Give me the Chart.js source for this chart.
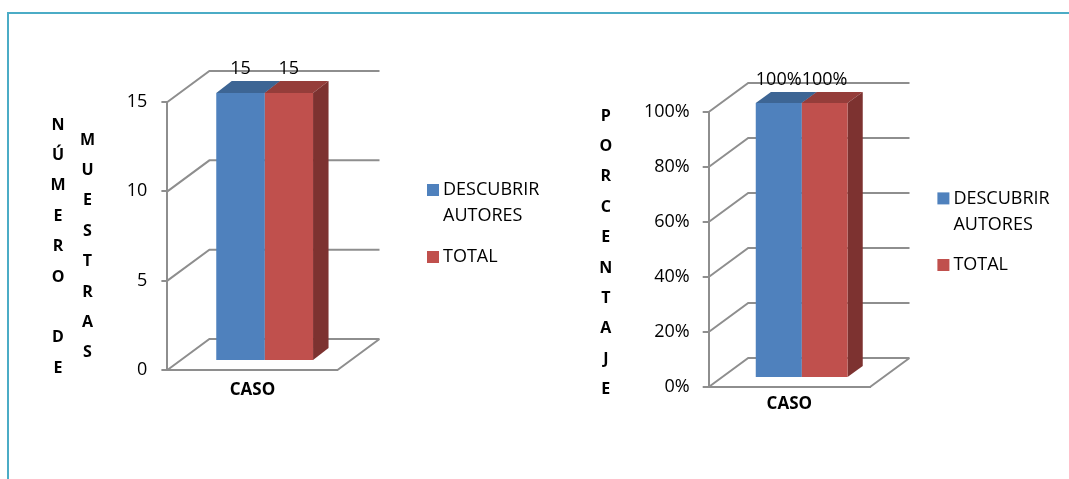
<!DOCTYPE html>
<html>
<head>
<meta charset="utf-8">
<script src="https://cdn.jsdelivr.net/npm/chart.js@4.4.0/dist/chart.umd.min.js"></script>
<style>
    html, body { margin: 0; padding: 0; background: #fff; }
    body { width: 1069px; height: 479px; position: relative; overflow: hidden; }
    #frame { position: absolute; left: 7px; top: 12px; width: 1100px; height: 500px;
             border-left: 2px solid #4BACC6; border-top: 2px solid #4BACC6; }
    canvas { position: absolute; top: 0; }
    #countChart { left: 0; }
    #percentChart { left: 535px; }
</style>
</head>
<body>
<div id="frame"></div>
<canvas id="countChart" width="565" height="479"></canvas>
<canvas id="percentChart" width="534" height="479"></canvas>
<script>
// Data
const categories = ['CASO'];
const seriesNames = ['DESCUBRIR AUTORES', 'TOTAL'];
const countValues = [15, 15];
const percentValues = [100, 100];
const countTicks = [0, 5, 10, 15];
const percentTicks = [0, 20, 40, 60, 80, 100];
const countTitle = 'NÚMERO DE MUESTRAS';
const percentTitle = 'PORCENTAJE';

const frontColors = ['#4F81BD', '#C0504D'];
const topColors = ['#3D6594', '#953D3A'];
const sideColors = ['#3A5F8C', '#7D3230'];
const gridColor = '#8e8e8e';
const FONT = '"Open Sans", Lato, sans-serif';

Chart.defaults.color = '#000';
Chart.defaults.font.family = FONT;

// Fake 3D look: walls, bar depth, value labels, legend and stacked axis title
const threeD = {
    id: 'threeD',
    beforeDatasetsDraw(chart, args, o) {
        const { ctx, chartArea: a, scales: { y } } = chart;
        ctx.save();
        ctx.strokeStyle = gridColor;
        ctx.lineWidth = 2;
        ctx.beginPath();
        y.ticks.forEach(t => {
            const py = y.getPixelForValue(t.value);
            ctx.moveTo(a.left, py);
            ctx.lineTo(a.left + o.dx, py + o.dy);
            ctx.lineTo(a.right + o.dx, py + o.dy);
        });
        ctx.moveTo(a.right, a.bottom);
        ctx.lineTo(a.right + o.dx, a.bottom + o.dy);
        ctx.stroke();

        // bars sit in the middle of the depth
        ctx.translate(o.barDx, o.barDy);
        chart.data.datasets.forEach((ds, i) => {
            chart.getDatasetMeta(i).data.forEach(bar => {
                const p = bar.getProps(['x', 'y', 'base', 'width'], true);
                const l = p.x - p.width / 2, r = p.x + p.width / 2;
                ctx.fillStyle = topColors[i];
                ctx.beginPath();
                ctx.moveTo(l, p.y);
                ctx.lineTo(l + o.depthDx, p.y + o.depthDy);
                ctx.lineTo(r + o.depthDx, p.y + o.depthDy);
                ctx.lineTo(r, p.y);
                ctx.closePath();
                ctx.fill();
                ctx.fillStyle = sideColors[i];
                ctx.beginPath();
                ctx.moveTo(r, p.y);
                ctx.lineTo(r + o.depthDx, p.y + o.depthDy);
                ctx.lineTo(r + o.depthDx, p.base + o.depthDy);
                ctx.lineTo(r, p.base);
                ctx.closePath();
                ctx.fill();
            });
        });
    },
    afterDatasetsDraw(chart, args, o) {
        const ctx = chart.ctx;
        ctx.restore();
        ctx.save();
        ctx.font = '18px ' + FONT;
        ctx.fillStyle = '#000';
        ctx.textAlign = 'center';
        ctx.textBaseline = 'middle';
        chart.data.datasets.forEach((ds, i) => {
            chart.getDatasetMeta(i).data.forEach((bar, j) => {
                const p = bar.getProps(['x', 'y'], true);
                ctx.fillText(o.format(ds.data[j]), p.x + o.barDx, p.y + o.barDy + o.depthDy - o.labelGap);
            });
        });
        ctx.restore();
    },
    afterDraw(chart, args, o) {
        const ctx = chart.ctx;
        ctx.save();
        // legend
        ctx.font = '18px ' + FONT;
        ctx.textBaseline = 'middle';
        ctx.textAlign = 'left';
        let cy = o.legend.y;
        chart.data.datasets.forEach((ds, i) => {
            ctx.fillStyle = frontColors[i];
            ctx.fillRect(o.legend.x, cy - 6, 12, 12);
            ctx.fillStyle = '#000';
            const lines = ds.label.split(' ');
            lines.forEach((ln, k) => ctx.fillText(ln, o.legend.x + 16, cy + k * 26));
            cy += o.legend.gap;
        });
        // stacked axis title
        ctx.font = 'bold 16px ' + FONT;
        ctx.textAlign = 'center';
        o.title.cols.forEach(col => {
            [...col.text].forEach((ch, k) => {
                if (ch !== ' ') ctx.fillText(ch, col.x, col.y + k * o.title.step);
            });
        });
        ctx.restore();
    }
};

function makeDatasets(values) {
    return seriesNames.map((name, i) => ({
        label: name,
        data: [values[i]],
        backgroundColor: frontColors[i],
        borderWidth: 0,
        categoryPercentage: 0.569,
        barPercentage: 1.0
    }));
}

function makeScales(min, max, ticks, fmt, xPad, yPad) {
    return {
        x: {
            grid: { display: false, drawTicks: false },
            border: { display: true, color: gridColor, width: 2 },
            ticks: { font: { size: 17, weight: 'bold' }, padding: xPad },
            afterFit: s => { s.height = 40; }
        },
        y: {
            min: min, max: max,
            afterBuildTicks: s => { s.ticks = ticks.map(v => ({ value: v })); },
            grid: { drawOnChartArea: false, drawTicks: true, tickLength: 6, color: gridColor, lineWidth: 2 },
            border: { display: true, color: gridColor, width: 2 },
            ticks: { font: { size: 18 }, padding: yPad, callback: fmt },
            afterFit: s => { s.width = 90; }
        }
    };
}

// Left chart: number of samples
new Chart(document.getElementById('countChart'), {
    type: 'bar',
    data: { labels: categories, datasets: makeDatasets(countValues) },
    options: {
        responsive: false,
        animation: false,
        layout: { padding: { left: 77.4, right: 227.5, top: 102, bottom: 69 } },
        plugins: {
            legend: { display: false },
            tooltip: { enabled: false },
            threeD: {
                dx: 42, dy: -31,
                barDx: 12.2, barDy: -9,
                depthDx: 15.5, depthDy: -12,
                labelGap: 12,
                format: v => String(v),
                legend: { x: 427, y: 190, gap: 67 },
                title: { step: 30.4, cols: [
                    { text: countTitle.split(' ').slice(0, 2).join(' '), x: 58, y: 125 },
                    { text: countTitle.split(' ')[2], x: 87.5, y: 140 }
                ] }
            }
        },
        scales: makeScales(0, 15, countTicks, v => String(v), 10, 14)
    },
    plugins: [threeD]
});

// Right chart: percentage
new Chart(document.getElementById('percentChart'), {
    type: 'bar',
    data: { labels: categories, datasets: makeDatasets(percentValues) },
    options: {
        responsive: false,
        animation: false,
        layout: { padding: { left: 83.7, right: 199, top: 112, bottom: 52 } },
        plugins: {
            legend: { display: false },
            tooltip: { enabled: false },
            threeD: {
                dx: 39.5, dy: -29,
                barDx: 12.3, barDy: -9,
                depthDx: 15.2, depthDy: -11,
                labelGap: 12,
                format: v => v + '%',
                legend: { x: 402.4, y: 198.4, gap: 66.6 },
                title: { step: 30.4, cols: [
                    { text: percentTitle, x: 70.8, y: 116 }
                ] }
            }
        },
        scales: makeScales(0, 100, percentTicks, v => v + '%', 7, 13)
    },
    plugins: [threeD]
});
</script>
</body>
</html>
